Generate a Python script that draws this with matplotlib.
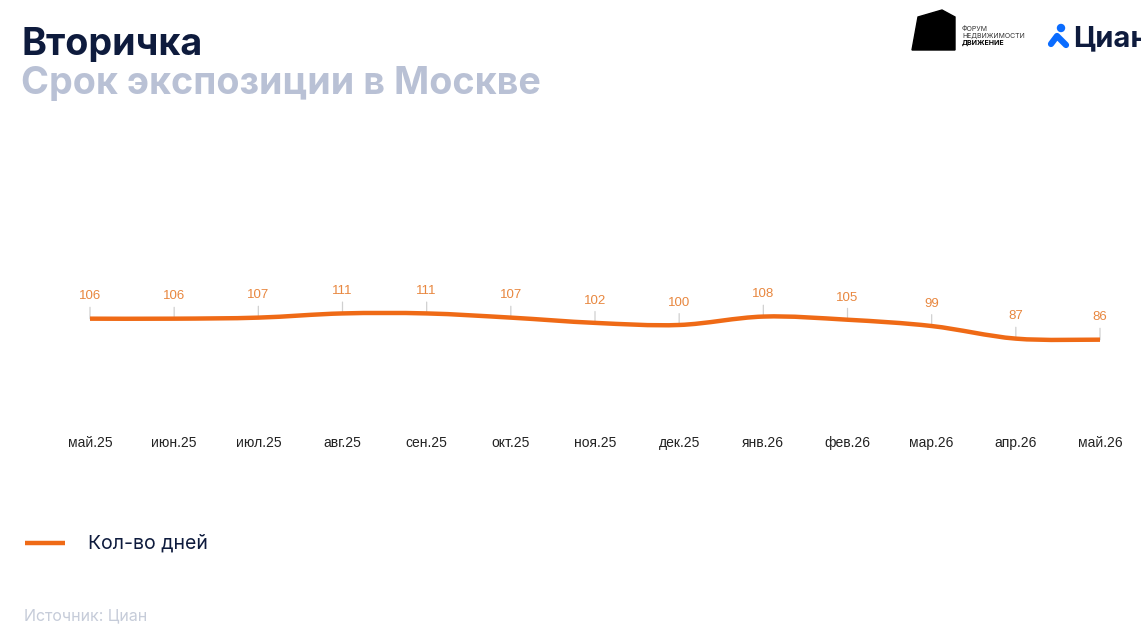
import numpy as np
import matplotlib.pyplot as plt
from matplotlib.path import Path
from matplotlib.patches import PathPatch, Polygon, Circle

plt.rcParams['font.family'] = ['Inter', 'DejaVu Sans']

months = ['май.25', 'июн.25', 'июл.25', 'авг.25', 'сен.25', 'окт.25', 'ноя.25',
          'дек.25', 'янв.26', 'фев.26', 'мар.26', 'апр.26', 'май.26']
days = [106, 106, 107, 111, 111, 107, 102, 100, 108, 105, 99, 87, 86]

ORANGE = '#ef6a16'
LABEL = '#e8873f'
NAVY = '#0e1b3d'
GREYBLUE = '#b9c1d5'
ARIAL = ['Liberation Sans', 'DejaVu Sans']

W, H = 1141, 635


def smooth_path(xs, ys):
    # catmull-rom style bezier through the points
    xs = np.asarray(xs, float)
    ys = np.asarray(ys, float)
    n = len(xs)
    verts = [(xs[0], ys[0])]
    codes = [Path.MOVETO]
    for i in range(n - 1):
        p0 = i - 1 if i > 0 else i
        p3 = i + 2 if i + 2 < n else i + 1
        c1 = (xs[i] + (xs[i + 1] - xs[p0]) / 6, ys[i] + (ys[i + 1] - ys[p0]) / 6)
        c2 = (xs[i + 1] - (xs[p3] - xs[i]) / 6, ys[i + 1] - (ys[p3] - ys[i]) / 6)
        verts += [c1, c2, (xs[i + 1], ys[i + 1])]
        codes += [Path.CURVE4] * 3
    return Path(verts, codes)


fig = plt.figure(figsize=(W / 100, H / 100), dpi=100)

# main chart
ax = fig.add_axes([90 / W, 1 - 430 / H, 1010 / W, 230 / H])
x = np.arange(len(days))
ax.set_xlim(0, len(days) - 1)
ax.set_ylim(0, 219)
ax.add_patch(PathPatch(smooth_path(x, days), fill=False, edgecolor=ORANGE,
                       lw=3.2, capstyle='butt', clip_on=False, zorder=3))
for xi, v in zip(x, days):
    ax.annotate(str(v), (xi, v), xytext=(0, 16), textcoords='offset points',
                ha='center', va='center', color=LABEL, fontsize=9.5, family=ARIAL,
                arrowprops=dict(arrowstyle='-', color='#d0d0d0', lw=0.9,
                                shrinkA=1.5, shrinkB=0), zorder=2)
ax.set_xticks(x)
ax.set_xticklabels(months, fontsize=10, color='#222222', family=ARIAL)
ax.tick_params(axis='x', length=0, pad=4)
ax.set_yticks([])
for s in ax.spines.values():
    s.set_visible(False)
ax.patch.set_alpha(0)

# overlay in pixel coordinates for titles, legend and logos
ov = fig.add_axes([0, 0, 1, 1], zorder=-1)
ov.set_xlim(0, W)
ov.set_ylim(H, 0)
ov.axis('off')

ov.text(21, 55, 'Вторичка', fontsize=27.2, fontweight='bold', color=NAVY, va='baseline')
ov.text(21, 94, 'Срок экспозиции в Москве', fontsize=27.2, fontweight='bold',
        color=GREYBLUE, va='baseline')

ov.plot([25, 65], [543, 543], color=ORANGE, lw=3.2, solid_capstyle='butt')
ov.text(88, 543, 'Кол-во дней', fontsize=14, color=NAVY, va='center')
ov.text(24, 616, 'Источник: Циан', fontsize=11.5, color='#c6ccd9', va='center')

# logos
ov.add_patch(Polygon([(912, 50), (918, 17), (942, 10), (955, 17), (955, 50)],
                     closed=True, color='black'))
ov.text(962, 29, 'ФОРУМ', fontsize=5, color='#333333', va='center')
ov.text(962, 36, 'НЕДВИЖИМОСТИ', fontsize=5, color='#333333', va='center')
ov.text(962, 43, 'ДВИЖЕНИЕ', fontsize=5, fontweight='bold', color='black', va='center')

BLUE = '#0a6cff'
ov.add_patch(Circle((1061, 28), 3.5, color=BLUE))
ov.plot([1051, 1057, 1066], [44, 36, 45], color=BLUE, lw=4.5,
        solid_capstyle='round', solid_joinstyle='round')
ov.text(1073, 46, 'Циан', fontsize=21, fontweight='bold', color=NAVY, va='baseline')

fig.savefig('out.png', dpi=100)
